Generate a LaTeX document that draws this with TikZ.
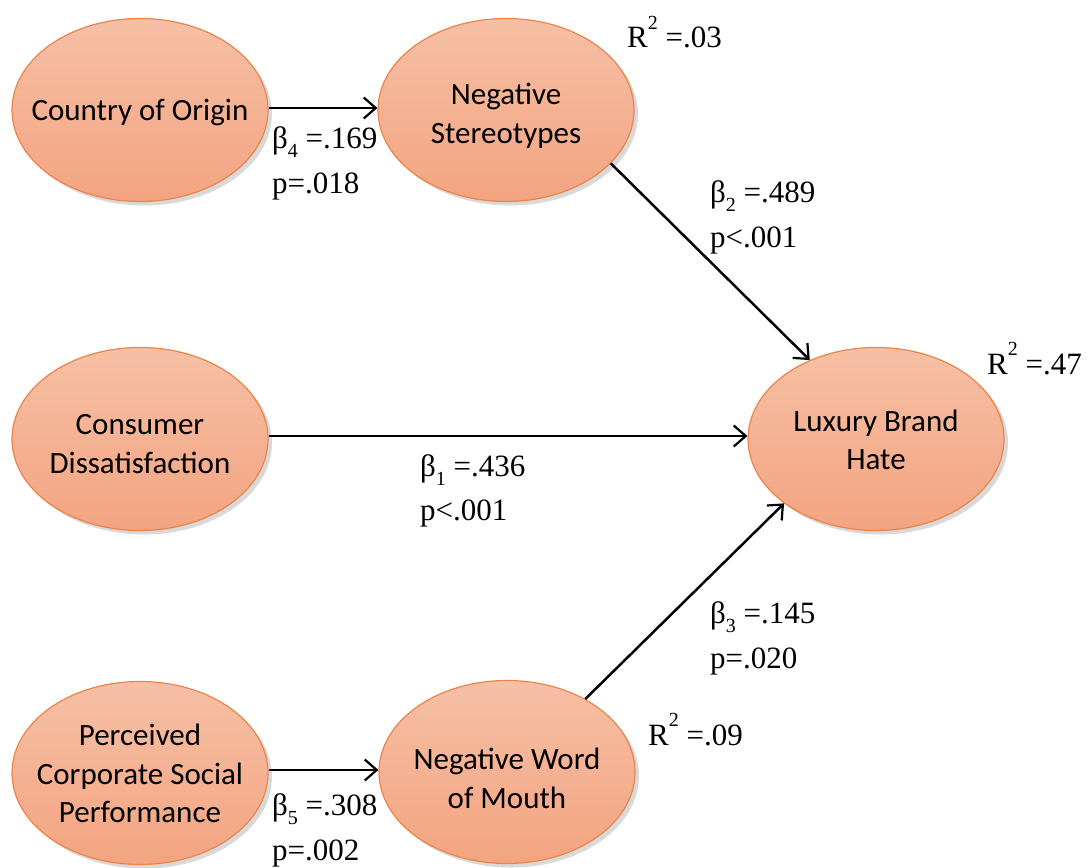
\documentclass[tikz,border=0pt]{standalone}
\usepackage{fontspec}
\setmainfont{Liberation Serif}
\newfontfamily\calfont{Carlito}
\usetikzlibrary{arrows.meta,shadows,shapes.geometric}
\definecolor{eltop}{RGB}{246,192,166}
\definecolor{elbot}{RGB}{243,164,128}
\definecolor{elborder}{RGB}{236,132,74}
\newcommand{\bsub}[2]{β\raisebox{-0.3em}{\fontsize{20}{20}\selectfont #1} =#2}
\newcommand{\rsq}[1]{R\raisebox{0.6em}{\fontsize{20}{20}\selectfont 2} =#1}
\begin{document}
\begin{tikzpicture}[x=1pt,y=-1pt,
  latent/.style={ellipse, minimum width=256pt, minimum height=183pt, inner sep=0pt,
    draw=elborder, line width=1.2pt, top color=eltop, bottom color=elbot,
    drop shadow={opacity=0.3, shadow xshift=4pt, shadow yshift=-4pt}},
  ltext/.style={align=center, inner sep=0pt, font=\calfont\fontsize{31}{38.5}\selectfont},
  arr/.style={-{Straight Barb[length=12pt,width=21pt,line width=2.2pt]}, line width=2.5pt},
  lbl/.style={anchor=base west, inner sep=0pt, align=left, font=\fontsize{31}{45}\selectfont}]
\useasboundingbox (0,0) rectangle (1089,867);
\node[latent] (coo) at (140,110) {};
\node[latent] (ns) at (506,110) {};
\node[latent] (cd) at (140,439) {};
\node[latent] (lbh) at (876,439) {};
\node[latent] (pcsp) at (140,773) {};
\node[latent] (nwom) at (507,772) {};
\node[ltext] (coot) at (140,112) {Country of Origin};
\node[ltext] (nst) at (506,116) {Negative\\Stereotypes};
\node[ltext] (cdt) at (140,444) {Consumer\\Dissatisfaction};
\node[ltext] (lbht) at (876,440) {Luxury Brand\\Hate};
\node[ltext] (pcspt) at (140,773.5) {Perceived\\Corporate Social\\Performance};
\node[ltext] (nwomt) at (507,778.5) {Negative Word\\of Mouth};
\draw[arr] (coo.east |- 0,108) -- (ns.west |- 0,108);
\draw[arr] (cd.east |- 0,436) -- (lbh.west |- 0,436);
\draw[arr] (pcsp.east |- 0,770) -- (nwom.west |- 0,770);
\draw[arr] (ns.-27) -- (lbh.130);
\draw[arr] (nwom.43) -- (lbh.215);
\node[lbl] (l4a) at (272,148) {\bsub{4}{.169}};
\node[lbl] (l4b) at (272,193) {p=.018};
\node[lbl] (r1) at (627,48) {\rsq{.03}};
\node[lbl] (l2a) at (710,202) {\bsub{2}{.489}};
\node[lbl] (l2b) at (710,247) {p<.001};
\node[lbl] (r2) at (987,374) {\rsq{.47}};
\node[lbl] (l1a) at (420,476) {\bsub{1}{.436}};
\node[lbl] (l1b) at (420,520) {p<.001};
\node[lbl] (l3a) at (710,623) {\bsub{3}{.145}};
\node[lbl] (l3b) at (710,668) {p=.020};
\node[lbl] (r3) at (648,745) {\rsq{.09}};
\node[lbl] (l5a) at (272,815) {\bsub{5}{.308}};
\node[lbl] (l5b) at (272,860) {p=.002};
\end{tikzpicture}
\end{document}
